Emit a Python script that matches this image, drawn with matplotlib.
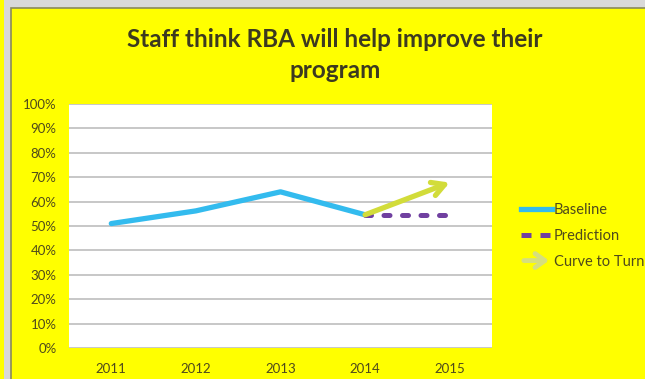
import matplotlib.pyplot as plt
from matplotlib.lines import Line2D
from matplotlib.patches import Rectangle, FancyArrowPatch
from matplotlib.legend_handler import HandlerBase
from matplotlib.ticker import PercentFormatter

years = ["2011", "2012", "2013", "2014", "2015"]
baseline = [0.51, 0.562, 0.64, 0.546]
prediction = [0.546, 0.546]
curve_to_turn = [0.546, 0.678]

text_col = "#4f4a1c"
plt.rcParams["font.family"] = ["Lato", "DejaVu Sans"]


class ArrowHandler(HandlerBase):
    def create_artists(self, legend, orig, xd, yd, w, h, fontsize, trans):
        a = FancyArrowPatch((-xd, h / 2 - yd), (w - xd, h / 2 - yd),
                            arrowstyle="->,head_length=7,head_width=5",
                            color="#d6df7e", lw=3.5, transform=trans)
        return [a]


fig = plt.figure(figsize=(6.45, 3.79), dpi=100)
fig.patch.set_facecolor("#d9d9d9")
# yellow chart area with thin dark edge
fig.patches.append(Rectangle((0, 0), 4 / 645, 1, transform=fig.transFigure,
                             facecolor="#ffff00", edgecolor="none", zorder=-5))
fig.patches.append(Rectangle((10.5 / 645, -0.01), 1, 1 - 8 / 379 + 0.01,
                             transform=fig.transFigure, facecolor="#ffff00",
                             edgecolor="#8a8a5a", lw=1.2, zorder=-5))

ax = fig.add_axes([69 / 645, 31 / 379, 423 / 645, 244 / 379])
ax.set_facecolor("white")
x = list(range(len(years)))

ax.plot(x[:4], baseline, color="#33bbee", lw=3.8, solid_capstyle="round",
        label="Baseline", zorder=3)
ax.plot(x[3:5], prediction, color="#7040a0", lw=3.6, dashes=(1.2, 2.5),
        dash_capstyle="round", label="Prediction", zorder=3)
ax.annotate("", xy=(x[4], curve_to_turn[1]), xytext=(x[3], curve_to_turn[0]),
            arrowprops=dict(arrowstyle="->,head_length=0.9,head_width=0.5",
                            color="#d2dc3a", lw=3.8, shrinkA=0, shrinkB=0),
            zorder=4)

ax.set_xlim(-0.5, 4.5)
ax.set_ylim(0, 1)
ax.set_yticks([i / 10 for i in range(11)])
ax.yaxis.set_major_formatter(PercentFormatter(1.0, decimals=0))
ax.set_xticks(x)
ax.set_xticklabels(years)
ax.grid(axis="y", color="#bdbdbd", lw=1.2)
ax.set_axisbelow(True)
for s in ax.spines.values():
    s.set_visible(False)
ax.tick_params(length=0, labelsize=9.5, labelcolor=text_col)
ax.tick_params(axis="x", pad=11)
ax.tick_params(axis="y", pad=9)

handles = [Line2D([], [], color="#33bbee", lw=3.8),
           Line2D([], [], color="#7040a0", lw=3.6, dashes=(2.0, 1.8),
                  dash_capstyle="butt"),
           Line2D([], [])]
leg = fig.legend(handles, ["Baseline", "Prediction", "Curve to Turn"],
                 loc="center left", bbox_to_anchor=(508 / 645, 1 - 236 / 379),
                 frameon=False, fontsize=10.5, labelcolor=text_col,
                 handlelength=2.1, handletextpad=0.15, labelspacing=0.8,
                 handler_map={handles[2]: ArrowHandler()})

fig.text(335 / 645, 1 - 55 / 379,
         "Staff think RBA will help improve their\nprogram",
         ha="center", va="center", fontsize=17.5, fontweight="bold",
         color="#3c3a20", linespacing=1.45)

fig.savefig("out.png", dpi=100, facecolor=fig.get_facecolor())
